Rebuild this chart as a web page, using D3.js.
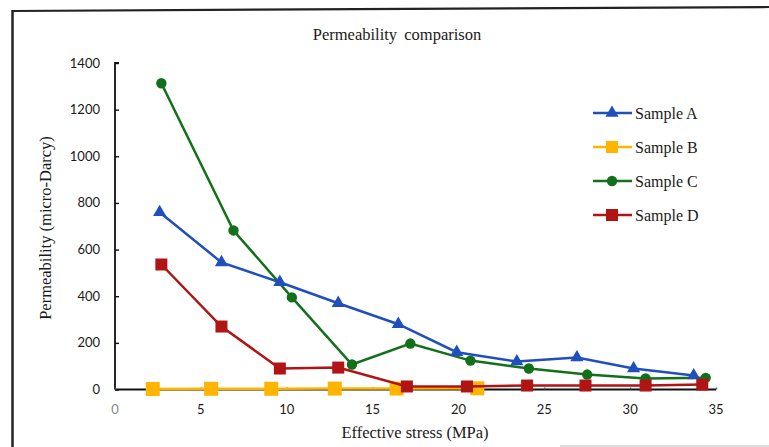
<!DOCTYPE html>
<html>
<head>
<meta charset="utf-8">
<script src="https://cdn.jsdelivr.net/npm/d3@7"></script>
<style>
  html, body { margin: 0; padding: 0; background: #fff; }
  svg { display: block; }
</style>
</head>
<body>
<svg id="chart" width="769" height="447"></svg>
<script>
// Effective stress (MPa) and permeability (micro-Darcy) for each sample
const sampleAStress = [2.6, 6.2, 9.6, 13.0, 16.5, 19.9, 23.4, 26.9, 30.2, 33.7];
const sampleAPerm   = [760, 545, 460, 370, 280, 160, 120, 137, 90, 60];

const sampleBStress = [2.2, 5.6, 9.1, 12.8, 16.4, 21.1];
const sampleBPerm   = [2, 3, 3, 4, 4, 5];

const sampleCStress = [2.7, 6.9, 10.3, 13.8, 17.2, 20.7, 24.1, 27.5, 30.9, 34.4];
const sampleCPerm   = [1313, 682, 395, 107, 197, 124, 90, 64, 47, 50];

const sampleDStress = [2.7, 6.2, 9.6, 13.0, 17.0, 20.5, 24.0, 27.4, 30.9, 34.2];
const sampleDPerm   = [536, 270, 90, 94, 13, 13, 17, 17, 17, 21];

const seriesNames = ["Sample A", "Sample B", "Sample C", "Sample D"];
const xTicks = [0, 5, 10, 15, 20, 25, 30, 35];
const yTicks = [0, 200, 400, 600, 800, 1000, 1200, 1400];

const series = [
  { name: seriesNames[0], xs: sampleAStress, ys: sampleAPerm, color: "#1f4fbf", shape: "triangle" },
  { name: seriesNames[1], xs: sampleBStress, ys: sampleBPerm, color: "#ffb400", shape: "bigsquare" },
  { name: seriesNames[2], xs: sampleCStress, ys: sampleCPerm, color: "#13701a", shape: "circle" },
  { name: seriesNames[3], xs: sampleDStress, ys: sampleDPerm, color: "#b01414", shape: "square" }
];

const svg = d3.select("#chart");
const serif = "'Liberation Serif', 'DejaVu Serif', serif";
const sans = "Lato, 'Liberation Sans', sans-serif";

// outer frame
svg.append("line").attr("x1", 12.5).attr("y1", 11).attr("x2", 769).attr("y2", 7)
  .attr("stroke", "#222").attr("stroke-width", 2.2);
svg.append("line").attr("x1", 12.5).attr("y1", 10).attr("x2", 12.5).attr("y2", 447)
  .attr("stroke", "#222").attr("stroke-width", 2.5);
svg.append("line").attr("x1", 560).attr("y1", 446).attr("x2", 769).attr("y2", 446)
  .attr("stroke", "#bbb").attr("stroke-width", 1);

const x = d3.scaleLinear().domain([0, 35]).range([115, 716]);
const y = d3.scaleLinear().domain([0, 1400]).range([389.5, 63]);

// y axis with inward ticks
const yAxis = svg.append("g").attr("transform", `translate(${x(0)},0)`)
  .call(d3.axisRight(y).tickValues(yTicks).tickSize(4).tickFormat(""));
yAxis.select(".domain").attr("stroke", "#111").attr("stroke-width", 1.8)
  .attr("d", `M4,${y(1400)}H0V${y(0)}`);
yAxis.selectAll(".tick line").attr("stroke", "#111").attr("stroke-width", 1.4);

svg.append("g").selectAll("text").data(yTicks).join("text")
  .attr("x", 100).attr("y", d => y(d)).attr("dy", "0.35em")
  .attr("text-anchor", "end").attr("font-family", sans).attr("font-size", 13)
  .attr("fill", "#1a1a1a").text(d => d);

// x axis: plain baseline with faint upward ticks
const xAxis = svg.append("g").attr("transform", `translate(0,${y(0)})`)
  .call(d3.axisTop(x).tickValues(xTicks).tickSize(2).tickFormat(""));
xAxis.select(".domain").attr("stroke", "#111").attr("stroke-width", 1.8)
  .attr("d", `M${x(0)},0H${x(35)}`);
xAxis.selectAll(".tick line").attr("stroke", "#555").attr("stroke-width", 1.5);

svg.append("g").selectAll("text").data(xTicks).join("text")
  .attr("x", d => x(d)).attr("y", 409).attr("dy", "0.35em")
  .attr("text-anchor", "middle").attr("font-family", sans).attr("font-size", 13)
  .attr("fill", d => d === 0 ? "#888" : "#1a1a1a").text(d => d);

// titles
svg.append("text").attr("x", 397).attr("y", 40).attr("text-anchor", "middle")
  .attr("font-family", serif).attr("font-size", 16.5).attr("fill", "#1a1a1a")
  .attr("word-spacing", 3).text("Permeability comparison");
svg.append("text").attr("x", 415).attr("y", 438).attr("text-anchor", "middle")
  .attr("font-family", serif).attr("font-size", 16.5).attr("fill", "#1a1a1a")
  .text("Effective stress (MPa)");
svg.append("text").attr("transform", "translate(51,228) rotate(-90)")
  .attr("text-anchor", "middle").attr("font-family", serif).attr("font-size", 16.5)
  .attr("fill", "#1a1a1a").text("Permeability (micro-Darcy)");

// marker drawing
function drawMarker(g, shape, color) {
  if (shape === "triangle") {
    g.append("path").attr("d", d3.symbol(d3.symbolTriangle, 75)()).attr("fill", color);
  } else if (shape === "circle") {
    g.append("circle").attr("r", 5.2).attr("fill", color);
  } else if (shape === "bigsquare") {
    g.append("rect").attr("x", -7).attr("y", -7).attr("width", 14).attr("height", 14).attr("fill", color);
  } else {
    g.append("rect").attr("x", -6).attr("y", -6).attr("width", 12).attr("height", 12).attr("fill", color);
  }
}

const line = d3.line().x(d => x(d[0])).y(d => y(d[1]));
const drawOrder = [1, 2, 0, 3];
drawOrder.forEach(i => {
  const s = series[i];
  const pts = s.xs.map((v, k) => [v, s.ys[k]]);
  const g = svg.append("g");
  g.append("path").datum(pts).attr("d", line).attr("fill", "none")
    .attr("stroke", s.color).attr("stroke-width", 2.5);
  pts.forEach(p => {
    const m = g.append("g").attr("transform", `translate(${x(p[0])},${y(p[1])})`);
    drawMarker(m, s.shape, s.color);
  });
});

// legend
const legend = svg.append("g");
series.forEach((s, i) => {
  const ly = 113 + i * 34;
  legend.append("line").attr("x1", 593).attr("x2", 632).attr("y1", ly).attr("y2", ly)
    .attr("stroke", s.color).attr("stroke-width", 2.5);
  const m = legend.append("g").attr("transform", `translate(612,${ly})`);
  drawMarker(m, s.shape === "bigsquare" ? "square" : s.shape, s.color);
  legend.append("text").attr("x", 635).attr("y", ly).attr("dy", "0.35em")
    .attr("font-family", serif).attr("font-size", 16).attr("fill", "#1a1a1a").text(s.name);
});
</script>
</body>
</html>
